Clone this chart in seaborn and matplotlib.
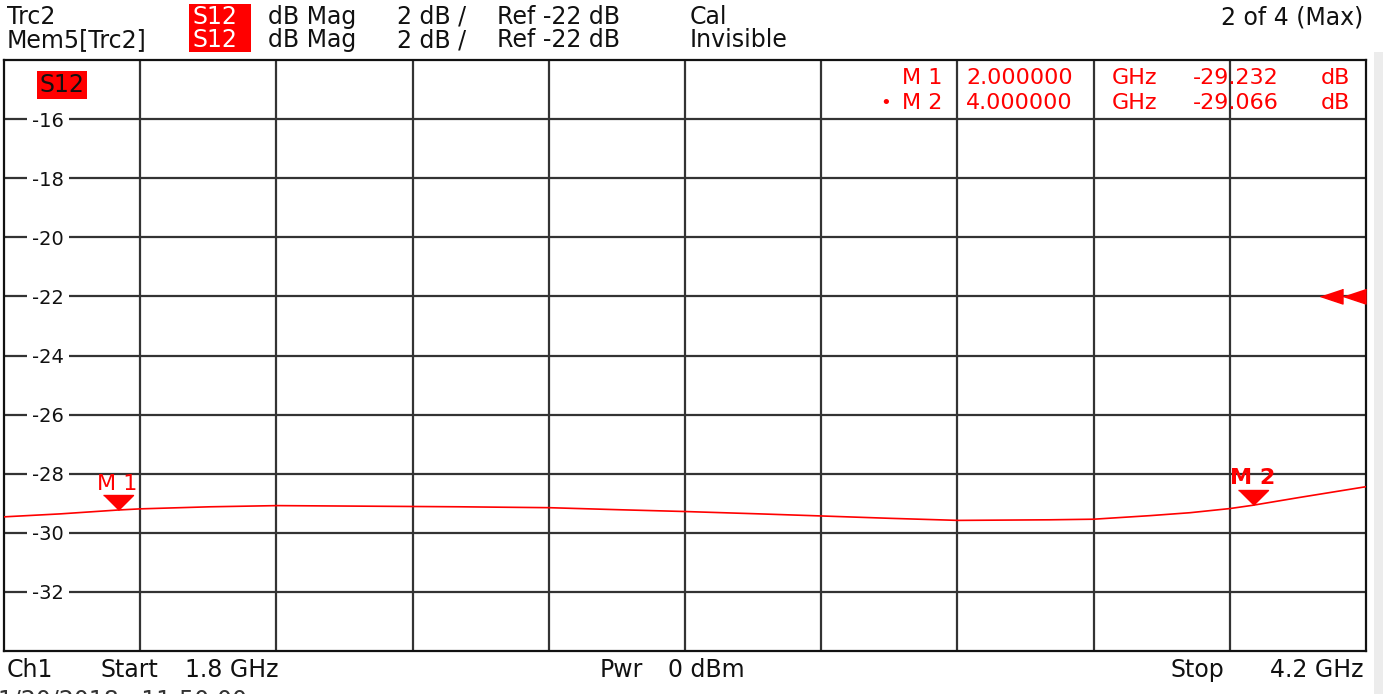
import matplotlib
matplotlib.use("Agg")
import matplotlib.pyplot as plt
import matplotlib.patches as mpatches
from matplotlib import transforms
import pandas as pd
import seaborn as sns

# -----------------------------
# trace data
# -----------------------------
freq_ghz = [1.800, 1.899, 2.000, 2.040, 2.163, 2.281, 2.445, 2.603, 2.760,
            2.885, 3.000, 3.132, 3.240, 3.361, 3.481, 3.643, 3.720, 3.819,
            3.890, 3.960, 4.000, 4.084, 4.200]
s12_db = [-29.46, -29.36, -29.23, -29.19, -29.12, -29.08, -29.10, -29.12, -29.15,
          -29.22, -29.28, -29.36, -29.43, -29.51, -29.58, -29.56, -29.54, -29.42,
          -29.32, -29.18, -29.07, -28.80, -28.44]

marker_names = ["M 1", "M 2"]
marker_freq = [2.0, 4.0]
marker_db = [-29.232, -29.066]

y_ticks = [-16, -18, -20, -22, -24, -26, -28, -30, -32]
x_grid = [1.8 + 0.24 * k for k in range(1, 10)]
ref_level = -22

W, H = 1383, 694
RED = "#ff0000"

sns.set_style("white")
plt.rcParams["font.family"] = ["DejaVu Sans"]
plt.rcParams["axes.unicode_minus"] = False

fig = plt.figure(figsize=(W / 100, H / 100), dpi=100)
ax = fig.add_axes([4 / W, 1 - 651 / H, 1362 / W, 591 / H])


def ftext(x, y, s, **kw):
    # place text by pixel position of the screenshot
    kw.setdefault("va", "center")
    kw.setdefault("fontsize", 17)
    kw.setdefault("color", "#111111")
    return fig.text(x / W, 1 - y / H, s, **kw)


# =============================
# trace
# =============================
df = pd.DataFrame({"freq": freq_ghz, "s12": s12_db})
sns.lineplot(data=df, x="freq", y="s12", color=RED, lw=1.2, ax=ax, zorder=3)

ax.set_xlim(1.8, 4.2)
ax.set_ylim(-34, -14)
ax.set_xticks(x_grid)
ax.set_yticks(y_ticks)
ax.set_yticklabels([str(v) for v in y_ticks])
ax.set_xlabel("")
ax.set_ylabel("")
ax.grid(True, color="#333333", lw=1.6)
ax.tick_params(axis="both", length=0)
ax.tick_params(axis="x", labelbottom=False)
ax.tick_params(axis="y", pad=-43, labelsize=14, labelcolor="#111111")
for lbl in ax.get_yticklabels():
    lbl.set_bbox(dict(facecolor="white", edgecolor="none", boxstyle="square,pad=0.25"))
for sp in ax.spines.values():
    sp.set_color("#111111")
    sp.set_linewidth(1.6)

# markers: downward triangles with tip on the trace
tri_down = [(-1, 1), (1, 1), (0, 0)]
ax.plot(marker_freq, marker_db, ls="none", marker=tri_down, ms=21.6,
        color=RED, mec=RED, zorder=4)
ax.annotate(marker_names[0], (marker_freq[0], marker_db[0]), xytext=(0, 14.5),
            textcoords="offset points", ha="center", va="baseline",
            fontsize=16, color=RED)
ax.annotate(marker_names[1], (marker_freq[1], marker_db[1]), xytext=(0, 15.5),
            textcoords="offset points", ha="center", va="baseline",
            fontsize=16, color=RED, fontweight="bold")

# reference level arrows on the right edge
tri_left = [(-1, 0), (0.5, -0.5), (0.5, 0.5)]
ref_tr = transforms.blended_transform_factory(ax.transAxes, ax.transData)
for off in (-31, -8):
    ax.plot([1.0], [ref_level], ls="none", marker=tri_left, ms=21.6, color=RED,
            clip_on=False, zorder=5,
            transform=ref_tr + transforms.ScaledTranslation(off / 100, 0, fig.dpi_scale_trans))

# S12 tag inside the grid
ax.text(58 / 1362, 1 - 25 / 591, "S12", transform=ax.transAxes, ha="center",
        va="center", fontsize=17, color="#111111",
        bbox=dict(facecolor=RED, edgecolor="none", boxstyle="square,pad=0.1"))

# marker readout table
table_rows = [(78, marker_names[0], "2.000000", "-29.232"),
              (103, marker_names[1], "4.000000", "-29.066")]
for y, name, f, v in table_rows:
    ftext(942, y, name, ha="right", fontsize=16, color=RED)
    ftext(966, y, f, ha="left", fontsize=16, color=RED)
    ftext(1112, y, "GHz", ha="left", fontsize=16, color=RED)
    ftext(1193, y, v, ha="left", fontsize=16, color=RED)
    ftext(1350, y, "dB", ha="right", fontsize=16, color=RED)
ftext(886, 103, "•", ha="center", fontsize=13, color=RED)

# =============================
# header
# =============================
fig.patches.append(mpatches.Rectangle((189 / W, 1 - 52 / H), 62 / W, 48 / H,
                                      transform=fig.transFigure, facecolor=RED,
                                      edgecolor="none"))
for y, name, state in [(17, "Trc2", "Cal"), (40, "Mem5[Trc2]", "Invisible")]:
    ftext(7, y, name)
    ftext(192, y, "S12", color="white")
    ftext(268, y, "dB Mag")
    ftext(397, y, "2 dB /")
    ftext(497, y, "Ref -22 dB")
    ftext(690, y, state)
ftext(1363, 18, "2 of 4 (Max)", ha="right")

# footer
ftext(7, 670, "Ch1")
ftext(100, 670, "Start")
ftext(185, 670, "1.8 GHz")
ftext(600, 670, "Pwr")
ftext(668, 670, "0 dBm")
ftext(1170, 670, "Stop")
ftext(1363, 670, "4.2 GHz", ha="right")
ftext(-2, 688, "1/20/2018   11:50:00", va="top", color="#333333")

# faint strip at the right screen edge
fig.patches.append(mpatches.Rectangle((1374 / W, 0), 9 / W, 1 - 52 / H,
                                      transform=fig.transFigure, facecolor="#ececec",
                                      edgecolor="none"))

fig.savefig("out.png", dpi=100, facecolor="white")
